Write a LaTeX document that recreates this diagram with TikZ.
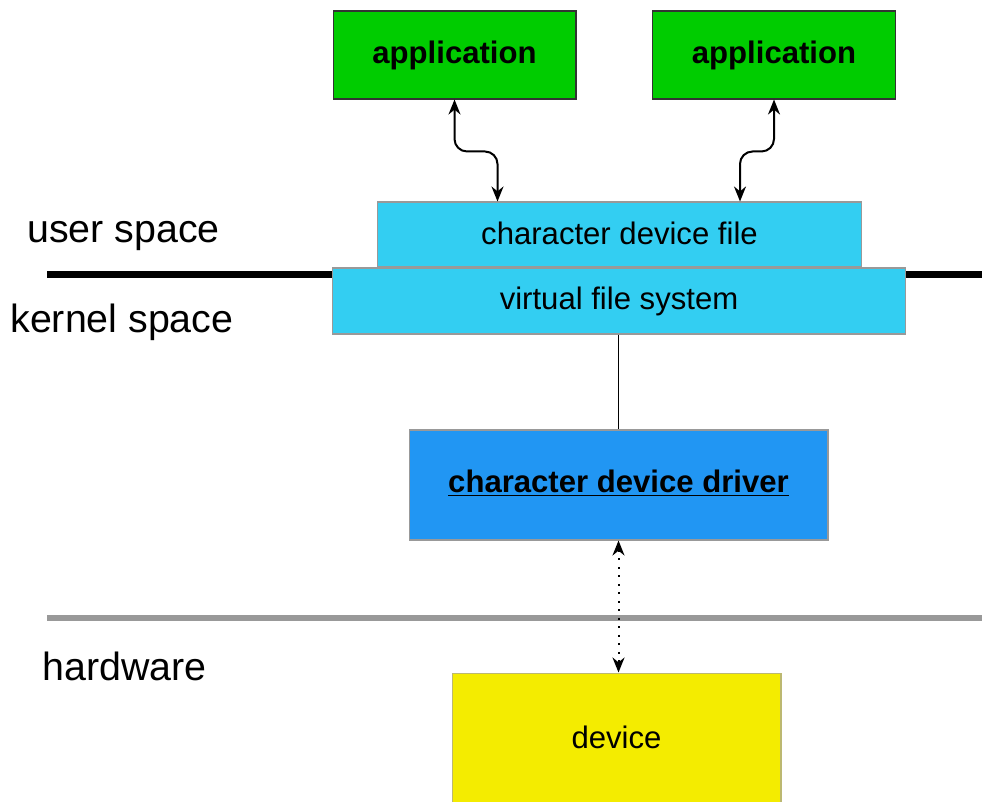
\documentclass[tikz,border=0pt]{standalone}
\usepackage{fontspec}
\setmainfont{Liberation Sans}
\usetikzlibrary{arrows.meta,positioning,calc}

\definecolor{appgreen}{RGB}{0,204,0}
\definecolor{vfsblue}{RGB}{51,206,242}
\definecolor{drvblue}{RGB}{33,150,243}
\definecolor{devyellow}{RGB}{244,236,0}

\tikzset{
  layer/.style={draw=gray!80, line width=0.6pt, inner sep=0pt,
    font=\fontsize{17.7}{21}\selectfont},
  appbox/.style={layer, draw=black!80, fill=appgreen,
    font=\fontsize{17.7}{21}\selectfont\bfseries,
    minimum width=4.86cm, minimum height=1.76cm},
  spacelabel/.style={anchor=west, inner sep=0pt,
    font=\fontsize{22.4}{26}\selectfont},
  io/.style={{Stealth[length=0.3cm,width=0.24cm]}-{Stealth[length=0.3cm,width=0.24cm]},
    line width=0.04cm}
}

\begin{document}
\begin{tikzpicture}[x=0.02cm, y=-0.02cm]
  \clip (0,0) rectangle (982,801);
  % space labels
  \node[spacelabel] (user) at (27,236) {user space};
  \node[spacelabel] (kernel) at (10,322) {kernel space};
  \node[spacelabel] (hw) at (42,666) {hardware};
  % applications
  \node[appbox] (app1) at (454.5,55) {application};
  \node[appbox] (app2) at (774,55) {application};
  % device file and vfs
  \node[layer, fill=vfsblue, minimum width=9.7cm, minimum height=1.3cm]
    (cdf) at (619.5,234.5) {\raisebox{2pt}{character device file}};
  \node[layer, fill=vfsblue, minimum width=11.48cm, minimum height=1.32cm]
    (vfs) at (619,301) {\raisebox{1pt}{virtual file system}};
  % user / kernel border
  \coordinate (ukl) at (47,274);
  \coordinate (ukr) at (982,274);
  \draw[line width=0.14cm] (ukl) -- (ukl -| vfs.west);
  \draw[line width=0.14cm] (vfs.east |- ukr) -- (ukr);
  % driver
  \node[layer, fill=drvblue, minimum width=8.38cm, minimum height=2.2cm,
    font=\fontsize{17.7}{21}\selectfont\bfseries]
    (drv) at (618.5,485) {\raisebox{4pt}{\underline{character device driver}}};
  \draw[line width=0.03cm] (vfs.south -| drv.north) -- (drv.north);
  % kernel / hardware border
  \coordinate (hwl) at (47,618);
  \coordinate (hwr) at (982,618);
  \draw[line width=0.12cm, gray!80] (hwl) -- (hwr);
  % device
  \node[layer, draw=gray!60!yellow, fill=devyellow, minimum width=6.58cm, minimum height=3.2cm]
    (dev) at (616.5,753) {\raisebox{0.62cm}{device}};
  \draw[io, dash pattern=on 0.04cm off 0.13cm] (drv.south) -- (drv.south |- dev.north);
  % app <-> device file
  \coordinate (c1) at ($(cdf.north)+(-122,0)$);
  \coordinate (c2) at ($(cdf.north)+(120.5,0)$);
  \draw[io, rounded corners=0.25cm] (app1.south) |- ($(c1)+(0,-50)$) -- (c1);
  \draw[io, rounded corners=0.25cm] (app2.south) |- ($(c2)+(0,-50)$) -- (c2);
\end{tikzpicture}
\end{document}
